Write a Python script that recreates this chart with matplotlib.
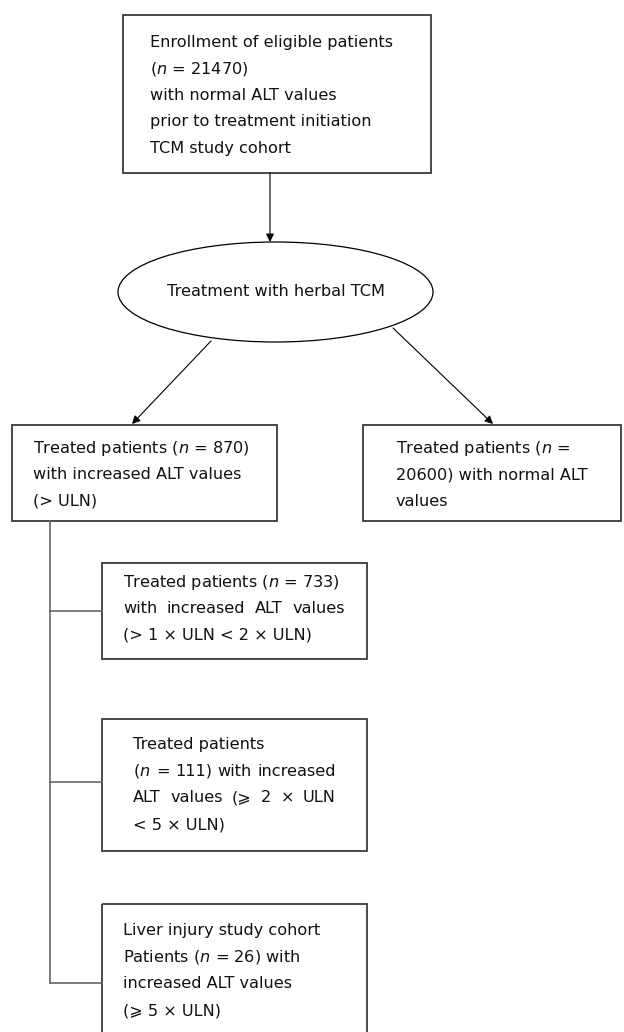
import matplotlib.pyplot as plt
from matplotlib.patches import Rectangle, Ellipse

# box texts (italic n via mathtext)
top_lines = ['Enrollment of eligible patients', r'($\it{n}$ = 21470)',
             'with normal ALT values', 'prior to treatment initiation',
             'TCM study cohort']
ellipse_text = 'Treatment with herbal TCM'
increased_lines = [r'Treated patients ($\it{n}$ = 870)', 'with increased ALT values', '(> ULN)']
normal_lines = [r'Treated patients ($\it{n}$ =', '20600) with normal ALT', 'values']
grade1_lines = [r'Treated patients ($\it{n}$ = 733)', 'with increased ALT values',
                '(> 1 × ULN < 2 × ULN)']
grade2_lines = ['Treated patients', r'($\it{n}$ = 111) with increased',
                'ALT values (⩾ 2 × ULN', '< 5 × ULN)']
grade3_lines = ['Liver injury study cohort', r'Patients ($\it{n}$ = 26) with',
                'increased ALT values', '(⩾ 5 × ULN)']

W, H = 624, 1032
fig = plt.figure(figsize=(W / 100, H / 100), dpi=100)
ax = fig.add_axes([0, 0, 1, 1])
ax.set_xlim(0, W)
ax.set_ylim(H, 0)
ax.axis('off')
renderer = fig.canvas.get_renderer()

box_col = '#3a3a3a'
line_col = '#666666'
fs = 11.6
line_gap = 26.5


def box(x0, y0, x1, y1):
    ax.add_patch(Rectangle((x0, y0), x1 - x0, y1 - y0, fill=False,
                           edgecolor=box_col, lw=1.3))


def lines(x, y, txt, just_width=None, just_rows=()):
    for i, t in enumerate(txt):
        yy = y + i * line_gap
        if i in just_rows:
            # spread the words over the full line width
            words = t.split(' ')
            objs = [ax.text(0, yy, w, fontsize=fs, ha='left', va='center',
                            color='#111111') for w in words]
            widths = [o.get_window_extent(renderer).width for o in objs]
            gap = (just_width - sum(widths)) / (len(words) - 1)
            xx = x
            for o, wd in zip(objs, widths):
                o.set_x(xx)
                xx += wd + gap
        else:
            ax.text(x, yy, t, fontsize=fs, ha='left', va='center', color='#111111')


def arrow(x0, y0, x1, y1):
    ax.annotate('', xy=(x1, y1), xytext=(x0, y0),
                arrowprops=dict(arrowstyle='-|>', color='black', lw=0.8,
                                mutation_scale=12, shrinkA=0, shrinkB=0))


# top box
box(123, 15, 431, 173)
lines(150, 42, top_lines)
arrow(270, 173, 270, 242)

# ellipse
ax.add_patch(Ellipse((275.5, 292), 315, 100, fill=False, edgecolor='black', lw=0.9))
ax.text(276, 292, ellipse_text, fontsize=fs, ha='center', va='center', color='#111111')
arrow(211, 341, 132, 424)
arrow(393, 328, 493, 424)

# second row
box(12, 425, 277, 521)
lines(33, 448, increased_lines)
box(363, 425, 621, 521)
lines(396, 448, normal_lines)

# tree connector
ax.plot([50, 50], [521, 983], color=line_col, lw=1.2)
for yc in [611, 782, 983]:
    ax.plot([50, 102], [yc, yc], color=line_col, lw=1.2)

box(102, 563, 367, 659)
lines(123, 582, grade1_lines, just_width=222, just_rows=(1,))
box(102, 719, 367, 851)
lines(133, 745, grade2_lines, just_width=203, just_rows=(1, 2))
box(102, 904, 367, 1045)
lines(123, 931, grade3_lines)

fig.savefig('out.png', dpi=100)
